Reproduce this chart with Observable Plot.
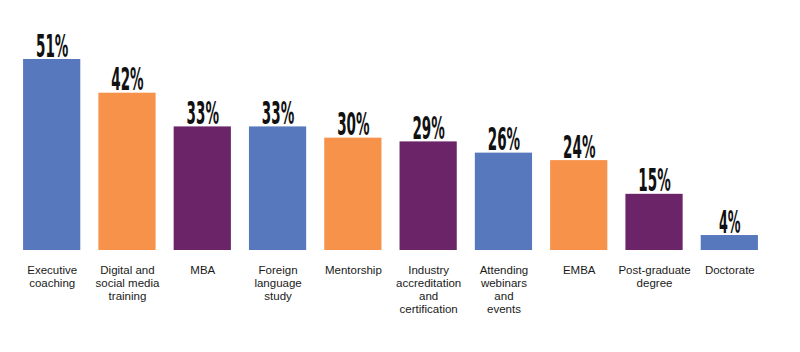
<!DOCTYPE html>
<html>
<head>
<meta charset="utf-8">
<script src="https://cdn.jsdelivr.net/npm/d3@7"></script>
<script src="https://cdn.jsdelivr.net/npm/@observablehq/plot@0.6"></script>
<style>
  html, body { margin: 0; padding: 0; background: #fff; }
  #chart { width: 800px; height: 352px; }
</style>
</head>
<body>
<div id="chart"></div>
<script>
const categories = [
  "Executive coaching", "Digital and social media training", "MBA",
  "Foreign language study", "Mentorship", "Industry accreditation and certification",
  "Attending webinars and events", "EMBA", "Post-graduate degree", "Doctorate"
];
const tickLabels = [
  "Executive\ncoaching", "Digital and\nsocial media\ntraining", "MBA",
  "Foreign\nlanguage\nstudy", "Mentorship", "Industry\naccreditation\nand\ncertification",
  "Attending\nwebinars\nand\nevents", "EMBA", "Post-graduate\ndegree", "Doctorate"
];
const values = [51, 42, 33, 33, 30, 29, 26, 24, 15, 4];
const colorGroups = ["A", "B", "C", "A", "B", "C", "A", "B", "C", "A"];
const palette = ["#5878be", "#f6924a", "#6b2467"];

const data = categories.map((c, i) => ({category: c, value: values[i], group: colorGroups[i]}));
const labelOf = new Map(categories.map((c, i) => [c, tickLabels[i]]));

const chart = Plot.plot({
  width: 800,
  height: 352,
  marginTop: 59,
  marginBottom: 102,
  marginLeft: 5,
  marginRight: 24,
  style: {background: "#fff", fontFamily: "'Liberation Sans', Arial, sans-serif"},
  x: {domain: categories, padding: 0.24, round: false, label: null},
  y: {domain: [0, 51], axis: null},
  color: {domain: ["A", "B", "C"], range: palette},
  marks: [
    Plot.barY(data, {x: "category", y: "value", fill: "group"}),
    Plot.text(data, {
      x: "category", y: "value",
      text: d => d.value + "%",
      lineAnchor: "bottom", dy: -3,
      fontSize: 32, fontWeight: "bold",
      fontFamily: "'DejaVu Sans Condensed', 'DejaVu Sans', sans-serif",
      fill: "#111"
    }),
    Plot.axisX({
      tickSize: 0, tickPadding: 14, fontSize: 11.5, lineHeight: 1.13,
      tickFormat: d => labelOf.get(d), fill: "#1a1a1a", label: null
    })
  ]
});
document.getElementById("chart").appendChild(chart);

// squeeze value labels to a condensed look
d3.select(chart).selectAll("g[aria-label=text] text").each(function () {
  const t = this.textContent;
  this.setAttribute("textLength", t.length * 10.8);
  this.setAttribute("lengthAdjust", "spacingAndGlyphs");
});
</script>
</body>
</html>
